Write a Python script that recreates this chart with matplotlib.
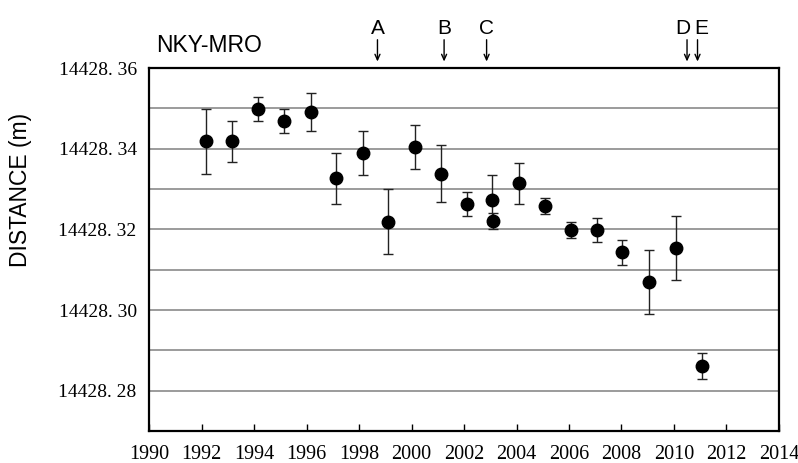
import matplotlib
matplotlib.use("Agg")
import matplotlib.pyplot as plt
import numpy as np

# Baseline distance NKY-MRO, yearly EDM measurements
years = [1992.16, 1993.15, 1994.15, 1995.13, 1996.15, 1997.13, 1998.14,
         1999.11, 2000.13, 2001.14, 2002.12, 2003.05, 2003.11, 2004.09,
         2005.07, 2006.06, 2007.06, 2008.04, 2009.04, 2010.07, 2011.06]
distance = [14428.3418, 14428.3418, 14428.3498, 14428.3468, 14428.3490,
            14428.3327, 14428.3389, 14428.3219, 14428.3405, 14428.3338,
            14428.3263, 14428.3274, 14428.3221, 14428.3314, 14428.3259,
            14428.3199, 14428.3199, 14428.3143, 14428.3070, 14428.3153,
            14428.2861]
error = [0.0080, 0.0050, 0.0030, 0.0030, 0.0047, 0.0063, 0.0055,
         0.0080, 0.0055, 0.0070, 0.0030, 0.0060, 0.0020, 0.0050,
         0.0020, 0.0020, 0.0030, 0.0031, 0.0080, 0.0079, 0.0032]

# Event markers along the top of the plot
event_labels = ["A", "B", "C", "D", "E"]
event_years = [1998.7, 2001.24, 2002.86, 2010.5, 2010.9]
event_label_x = [1998.7, 2001.24, 2002.86, 2010.33, 2011.05]

xticks = list(range(1990, 2015, 2))
yticks = [14428.28, 14428.30, 14428.32, 14428.34, 14428.36]
ytick_labels = ["14428. 28", "14428. 30", "14428. 32", "14428. 34", "14428. 36"]
grid_levels = np.round(np.arange(14428.28, 14428.3601, 0.01), 2)

serif = ["Liberation Serif", "DejaVu Serif"]
sans = ["Liberation Sans", "DejaVu Sans"]

fig = plt.figure(figsize=(7.98, 4.63), dpi=100)
ax = fig.add_axes([0.187, 0.069, 0.789, 0.784])

for g in grid_levels:
    ax.axhline(g, color="#8a8a8a", lw=1.2, zorder=1)

ax.errorbar(years, distance, yerr=error, fmt="o", color="black",
            ecolor="#222222", elinewidth=1.0, capsize=3.5, capthick=1.0,
            markersize=9, zorder=3)

ax.set_xlim(1990, 2014)
ax.set_ylim(14428.27, 14428.36)
ax.set_xticks(xticks)
ax.set_xticklabels([str(t) for t in xticks], family=serif, fontsize=14.5)
ax.set_yticks(yticks)
ax.set_yticklabels(ytick_labels, family=serif, fontsize=14)
ax.tick_params(axis="x", direction="in", length=5, width=1, pad=10)
ax.tick_params(axis="y", length=0, pad=9)

for s in ax.spines.values():
    s.set_linewidth(1.6)
    s.set_color("black")

fig.text(0.026, 1 - 190 / 463, "DISTANCE (m)", family=sans, fontsize=16.5,
         rotation=90, ha="center", va="center")
fig.text(0.196, 1 - 45 / 463, "NKY-MRO", family=sans, fontsize=16.5,
         ha="left", va="center")

trans = ax.get_xaxis_transform()
for lab, xe, xl in zip(event_labels, event_years, event_label_x):
    ax.annotate("", xy=(xe, 1.018), xytext=(xe, 1.078), xycoords=trans,
                textcoords=trans,
                arrowprops=dict(arrowstyle="->,head_length=0.4,head_width=0.18",
                                color="black", lw=1.0, shrinkA=0, shrinkB=0),
                annotation_clip=False)
    ax.text(xl, 1.11, lab, transform=trans, family=sans, fontsize=15,
            ha="center", va="center")

fig.savefig("out.png", dpi=100)
